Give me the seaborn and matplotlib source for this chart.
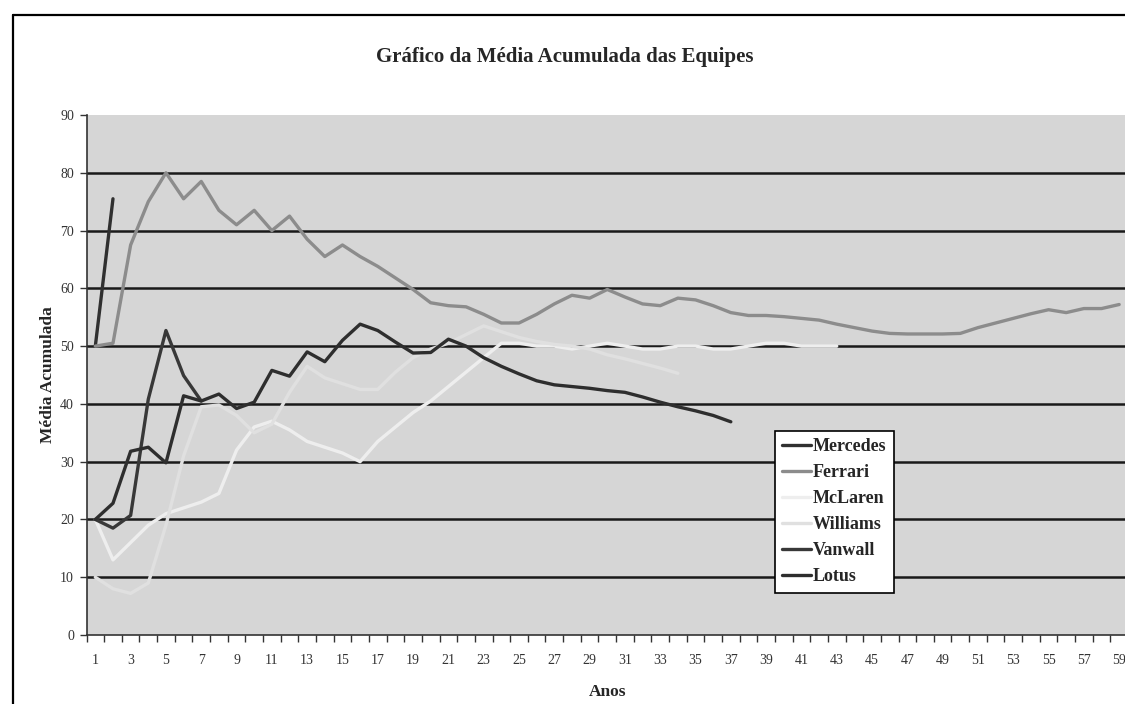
import matplotlib
matplotlib.use("Agg")
import matplotlib.pyplot as plt
import seaborn as sns
import pandas as pd
from matplotlib.lines import Line2D

# ---- data ----
teams = ["Mercedes", "Ferrari", "McLaren", "Williams", "Vanwall", "Lotus"]

mercedes = [50, 75.5]
ferrari = [50, 50.5, 67.5, 75, 80, 75.5, 78.5, 73.5, 71, 73.5,
           70, 72.5, 68.5, 65.5, 67.5, 65.5, 63.8, 61.8, 59.8, 57.5,
           57, 56.8, 55.5, 54, 54, 55.5, 57.3, 58.8, 58.3, 59.8,
           58.5, 57.3, 57, 58.3, 58, 57, 55.8, 55.3, 55.3, 55.1,
           54.8, 54.5, 53.8, 53.2, 52.6, 52.2, 52.1, 52.1, 52.1, 52.2,
           53.2, 54, 54.8, 55.6, 56.3, 55.8, 56.5, 56.5, 57.2]
mclaren = [20, 13, 16, 19, 21, 22, 23, 24.5, 32, 36,
           37, 35.5, 33.5, 32.5, 31.5, 30, 33.5, 36, 38.5, 40.5,
           43, 45.5, 48, 50.5, 50.5, 50, 50, 49.5, 50, 50.5,
           50, 49.5, 49.5, 50, 50, 49.5, 49.5, 50, 50.5, 50.5,
           50, 50, 50]
williams = [10, 8, 7.2, 9, 19, 31, 39.5, 39.8, 38, 35,
            36.5, 42, 46.5, 44.5, 43.5, 42.5, 42.5, 45.5, 48, 49.5,
            50.5, 52, 53.5, 52.5, 51.5, 50.8, 50.3, 50, 49.5, 48.5,
            47.8, 47, 46.2, 45.3]
vanwall = [20, 18.5, 20.7, 40.8, 52.7, 44.9, 40.5]
lotus = [20, 22.8, 31.8, 32.5, 29.8, 41.4, 40.5, 41.7, 39.2, 40.3,
         45.8, 44.8, 49, 47.3, 51, 53.8, 52.7, 50.7, 48.8, 48.9,
         51.2, 50, 48, 46.5, 45.2, 44, 43.3, 43, 42.7, 42.3,
         42, 41.2, 40.3, 39.5, 38.8, 38, 36.9]

series = [mercedes, ferrari, mclaren, williams, vanwall, lotus]
yticks = list(range(0, 91, 10))
xtick_labels = [str(i) for i in range(1, 60, 2)]

title = "Gráfico da Média Acumulada das Equipes"
xlabel = "Anos"
ylabel = "Média Acumulada"

# ---- build long table ----
rows = []
for team, vals in zip(teams, series):
    for i, v in enumerate(vals):
        rows.append({"Ano": i + 1, "Media": v, "Equipe": team})
df = pd.DataFrame(rows)

palette = {"Mercedes": "#303030", "Ferrari": "#8c8c8c", "McLaren": "#eeeeee",
           "Williams": "#e0e0e0", "Vanwall": "#383838", "Lotus": "#2e2e2e"}

sns.set_theme(style="white")
plt.rcParams["font.family"] = ["Liberation Serif", "DejaVu Serif"]

fig = plt.figure(figsize=(11.25, 7.04), dpi=100)
W, H = 1125, 704
left, right, top, bottom = 86.5, 1128, 115, 635
ax = fig.add_axes([left / W, (H - bottom) / H, (right - left) / W, (bottom - top) / H])
ax.set_facecolor("#d6d6d6")

# outer chart border (clipped on right / bottom)
fig.add_artist(Line2D([13 / W, 13 / W], [0, (H - 15) / H], color="black", lw=1.6,
                      transform=fig.transFigure))
fig.add_artist(Line2D([13 / W, 1], [(H - 15) / H, (H - 15) / H], color="black", lw=1.6,
                      transform=fig.transFigure))

sns.lineplot(data=df, x="Ano", y="Media", hue="Equipe", hue_order=teams,
             palette=palette, estimator=None, sort=False, linewidth=2.4, ax=ax,
             legend=True, zorder=3)

ax.set_xlim(0.5, 59.5)
ax.set_ylim(0, 90)
ax.set_yticks(yticks)
ax.set_yticklabels([str(t) for t in yticks], fontsize=10, color="#333333")
ax.set_xticks(range(1, 60, 2))
ax.set_xticklabels(xtick_labels, fontsize=10, color="#333333")
ax.set_xticks([i + 0.5 for i in range(0, 60)], minor=True)
ax.tick_params(axis="x", which="major", length=0, pad=14)
ax.tick_params(axis="x", which="minor", length=5, width=1, color="#333333",
               direction="out", bottom=True)
ax.tick_params(axis="y", which="major", length=5, width=1, color="#333333",
               direction="out", left=True, pad=4)

for yv in yticks[1:-1]:
    ax.axhline(yv, color="#1a1a1a", lw=1.8, zorder=1)

for s in ["top", "right"]:
    ax.spines[s].set_visible(False)
for s in ["left", "bottom"]:
    ax.spines[s].set_color("#333333")
    ax.spines[s].set_linewidth(1.2)

ax.set_xlabel(xlabel, fontsize=12.5, fontweight="bold", labelpad=12)
ax.set_ylabel(ylabel, fontsize=12.5, fontweight="bold", labelpad=3)

fig.text(565 / W, (H - 57) / H, title, ha="center", va="center",
         fontsize=15, fontweight="bold")

handles, labels = ax.get_legend_handles_labels()
leg = ax.legend(handles, labels, loc="upper left",
                bbox_to_anchor=((775 - left) / (right - left), (bottom - 431) / (bottom - top)),
                frameon=True, fancybox=False, shadow=False, framealpha=1,
                prop={"family": "Liberation Serif", "weight": "bold", "size": 13},
                handlelength=1.6, handletextpad=0.1, labelspacing=0.5,
                borderpad=0.4, borderaxespad=0)
leg.get_frame().set_edgecolor("black")
leg.get_frame().set_linewidth(1.2)
leg.set_zorder(5)

fig.savefig("out.png", dpi=100)
